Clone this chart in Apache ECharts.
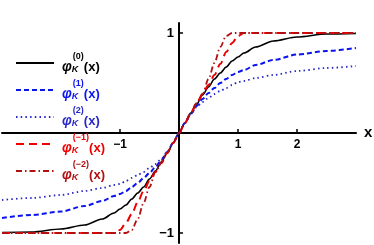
<!DOCTYPE html>
<html><head><meta charset="utf-8">
<script src="https://cdn.jsdelivr.net/npm/echarts@6/dist/echarts.min.js"></script>
<style>html,body{margin:0;padding:0;background:#fff}#c{width:374px;height:245px}</style>
</head><body><div id="c"></div>
<script>
var xs = [-3,-2.5,-2,-1.6,-1.3,-1.1,-1,-0.9,-0.8,-0.7,-0.6,-0.5,-0.4,-0.3,-0.2,-0.1,0,0.1,0.2,0.3,0.4,0.5,0.6,0.7,0.8,0.9,1,1.1,1.3,1.6,2,2.5,3];
var phi0 = [-0.995,-0.99,-0.96,-0.92,-0.86,-0.80,-0.76,-0.72,-0.66,-0.60,-0.54,-0.46,-0.38,-0.29,-0.20,-0.10,0,0.10,0.20,0.29,0.38,0.46,0.54,0.60,0.66,0.72,0.76,0.80,0.86,0.92,0.96,0.99,0.995];
var phi1 = [-0.85,-0.82,-0.785,-0.73,-0.68,-0.63,-0.61,-0.58,-0.54,-0.50,-0.45,-0.40,-0.34,-0.27,-0.19,-0.10,0,0.10,0.19,0.27,0.34,0.40,0.45,0.50,0.54,0.58,0.61,0.63,0.68,0.73,0.785,0.82,0.85];
var phi2 = [-0.67,-0.65,-0.62,-0.58,-0.55,-0.52,-0.51,-0.48,-0.45,-0.42,-0.39,-0.35,-0.31,-0.26,-0.19,-0.10,0,0.10,0.19,0.26,0.31,0.35,0.39,0.42,0.45,0.48,0.51,0.52,0.55,0.58,0.62,0.65,0.67];
var phiM1 = [-1,-1,-1,-1,-1,-1,-0.97,-0.90,-0.81,-0.69,-0.58,-0.48,-0.39,-0.30,-0.20,-0.10,0,0.10,0.20,0.30,0.39,0.48,0.58,0.69,0.81,0.90,0.97,1,1,1,1,1,1];
var phiM2 = [-1,-1,-1,-1,-1,-1,-1,-1,-0.97,-0.86,-0.70,-0.54,-0.39,-0.30,-0.20,-0.10,0,0.10,0.20,0.30,0.39,0.54,0.70,0.86,0.97,1,1,1,1,1,1,1,1];
var names = ['(0)','(1)','(2)','(\u22121)','(\u22122)'];
var xTicks = [-1,1,2];
var yTicks = [-1,1];

function pairs(ys){ return xs.map(function(x,i){return [x,ys[i]];}); }
var series = [
  {name:names[0], data:pairs(phi0), color:'#000000', lineStyle:{width:1.6,type:'solid'}},
  {name:names[1], data:pairs(phi1), color:'#0a14ee', lineStyle:{width:2,type:[5,3]}},
  {name:names[2], data:pairs(phi2), color:'#2828c8', lineStyle:{width:1.8,type:[1.5,3.2]}},
  {name:names[3], data:pairs(phiM1), color:'#ee0000', lineStyle:{width:2,type:[8,5]}},
  {name:names[4], data:pairs(phiM2), color:'#b01010', lineStyle:{width:1.8,type:[6,3,1.5,3]}}
].map(function(s){ s.type='line'; s.symbol='none'; s.showSymbol=false; s.smooth=0.3; s.smoothMonotone='x'; s.animation=false; s.lineStyle.color=s.color; s.itemStyle={color:s.color}; return s; });

var chart = echarts.init(document.getElementById('c'));
var font = 'Liberation Sans, Arial, sans-serif';
chart.setOption({
  animation:false,
  grid:{left:2,right:18,top:23,bottom:2,containLabel:false,outerBoundsMode:'none'},
  legend:{
    orient:'vertical', left:10, top:47, itemWidth:38, itemHeight:12, itemGap:5,
    itemStyle:{opacity:0},
    data:series.map(function(s){return {name:s.name, textStyle:{color:s.color}};}),
    textStyle:{fontFamily:font, fontWeight:'bold', fontSize:13, padding:[0,0,0,3],
      rich:{
        phi:{fontFamily:font, fontWeight:'bold', fontStyle:'italic', fontSize:14, verticalAlign:'bottom', lineHeight:22},
        k:{fontFamily:font, fontWeight:'bold', fontStyle:'italic', fontSize:9, width:1, verticalAlign:'bottom', lineHeight:21},
        sup:{fontFamily:font, fontWeight:'bold', fontSize:9, verticalAlign:'top', lineHeight:21},
        x:{fontFamily:font, fontWeight:'bold', fontSize:13, verticalAlign:'bottom', lineHeight:22}
      }},
    formatter:function(n){ return '{phi|\u03c6}{k|K}{sup|'+n+'}{x|(x)}'; }
  },
  xAxis:{type:'value', min:-3, max:3, name:'x', nameLocation:'end', nameGap:8, position:'bottom', offset:-110,
    nameTextStyle:{fontFamily:font, fontWeight:'bold', fontSize:15, color:'#000', verticalAlign:'middle'},
    axisLine:{onZero:false, lineStyle:{color:'#000', width:2}},
    axisTick:{show:true, inside:true, length:4, customValues:xTicks, lineStyle:{color:'#000', width:1.5}},
    axisLabel:{customValues:xTicks, margin:6, fontFamily:font, fontWeight:'bold', fontSize:12, color:'#000',
      formatter:function(v){return v<0?'\u2212'+Math.abs(v):String(v);}},
    splitLine:{show:false}},
  yAxis:{type:'value', min:-1.1, max:1.1, position:'left', offset:-177,
    axisLine:{onZero:false, lineStyle:{color:'#000', width:2}},
    axisTick:{show:true, inside:true, length:4, customValues:yTicks, lineStyle:{color:'#000', width:1.5}},
    axisLabel:{customValues:yTicks, margin:5, fontFamily:font, fontWeight:'bold', fontSize:13, color:'#000',
      formatter:function(v){return v<0?'\u2212'+Math.abs(v):String(v);}},
    splitLine:{show:false}},
  series:series
});
</script></body></html>
